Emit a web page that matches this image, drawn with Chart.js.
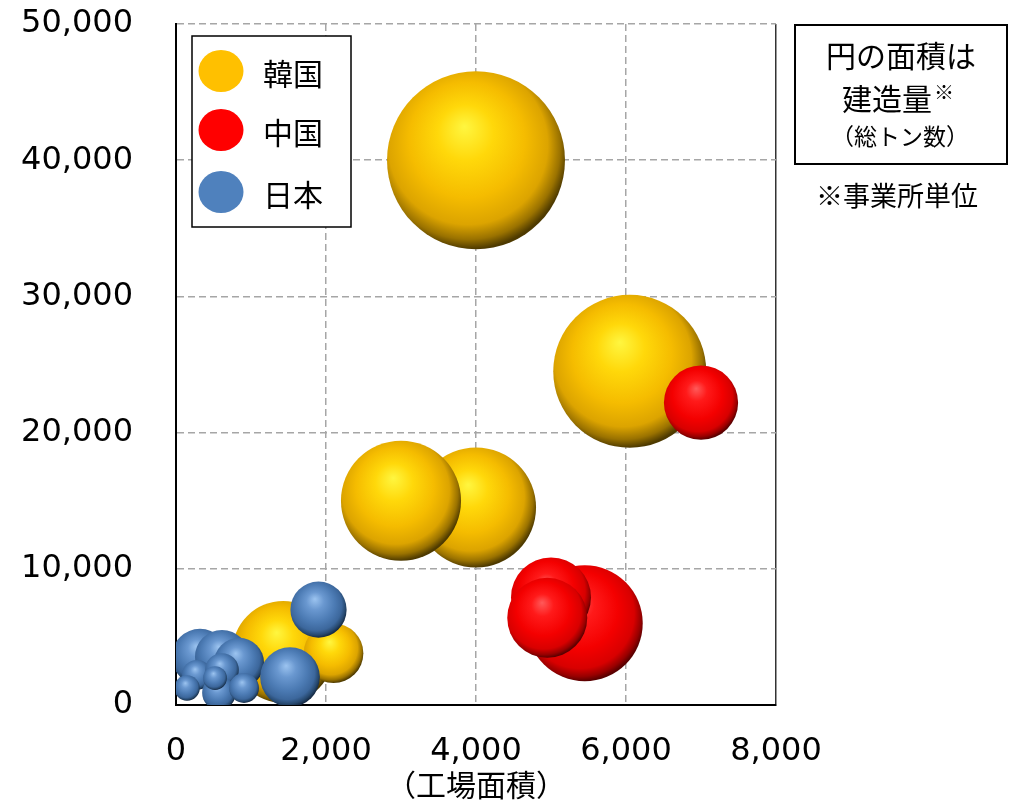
<!DOCTYPE html>
<html lang="ja">
<head>
<meta charset="utf-8">
<title>工場面積と建造量</title>
<script src="https://cdn.jsdelivr.net/npm/chart.js@4/dist/chart.umd.min.js"></script>
<style>
  html, body { margin: 0; padding: 0; background: #ffffff; }
  #wrap { width: 1009px; height: 803px; position: relative; }
</style>
</head>
<body>
<div id="wrap"><canvas id="chart" width="1009" height="803"></canvas></div>
<script>
// 工場面積 (x) と 従業員規模 (y)、建造量 (総トン数, 万GT) は円の面積で表す
const seriesNames = ['韓国', '中国', '日本'];

const koreaX = [4000, 6050, 4000, 3000, 1430, 2100];
const koreaY = [40000, 24500, 14500, 15000, 3900, 3800];
const koreaTonnage = [391, 289, 178, 178, 128, 44];

const chinaX = [5450, 5000, 4950, 7000];
const chinaY = [6000, 7900, 6400, 22200];
const chinaTonnage = [166, 79, 79, 68];

const japanX = [320, 613, 840, 1900, 1520, 280, 613, 147, 573, 907, 520];
const japanY = [3530, 3530, 3090, 7000, 2050, 2210, 2570, 1250, 880, 1250, 1980];
const japanTonnage = [39, 36, 31, 39, 44, 11, 14, 8, 14, 11, 7];

const xTicks = [0, 2000, 4000, 6000, 8000];
const yTicks = [0, 10000, 20000, 30000, 40000, 50000];

// 円の面積 ∝ 建造量  →  半径 ∝ √建造量
const RADIUS_PER_SQRT = 4.5;
function toBubbles(xs, ys, ts) {
  return xs.map((x, i) => ({ x: x, y: ys[i], r: RADIUS_PER_SQRT * Math.sqrt(ts[i]) }));
}

const palettes = {
  korea: { base: '#FFC000', stops: [[0, '#FFF640'], [0.28, '#FFD80A'], [0.58, '#F5BC00'], [0.8, '#DCA400'], [0.92, '#9A7200'], [1, '#4E3A00']] },
  china: { base: '#FF0000', stops: [[0, '#FF5A5A'], [0.25, '#FF1A1A'], [0.6, '#F40000'], [0.84, '#D80000'], [0.94, '#980000'], [1, '#5A0000']] },
  japan: { base: '#4F81BD', stops: [[0, '#9CC4F0'], [0.28, '#6A98D0'], [0.6, '#4C7BB4'], [0.82, '#3C679C'], [0.93, '#27496F'], [1, '#162B45']] }
};

// 球体風の塗り: スケールから中心座標を求めて放射グラデーションを作る
function sphereFill(p) {
  return (ctx) => {
    const chart = ctx.chart;
    const raw = ctx.raw;
    const xs = chart.scales && chart.scales.x;
    const ys = chart.scales && chart.scales.y;
    if (!raw || !xs || !ys) return p.base;
    const cx = xs.getPixelForValue(raw.x);
    const cy = ys.getPixelForValue(raw.y);
    const r = raw.r;
    if (!isFinite(cx) || !isFinite(cy) || !r) return p.base;
    const g = chart.ctx.createRadialGradient(cx - 0.13 * r, cy - 0.38 * r, 0, cx - 0.08 * r, cy - 0.12 * r, 1.12 * r);
    p.stops.forEach(s => g.addColorStop(s[0], s[1]));
    return g;
  };
}

const fmt = v => Number(v).toLocaleString('en-US');

// 凡例と注記の描画
const annotations = {
  id: 'annotations',
  afterDraw(chart) {
    const c = chart.ctx;
    c.save();
    // 凡例枠
    c.fillStyle = '#ffffff';
    c.fillRect(192, 36, 159, 191);
    c.strokeStyle = '#000000';
    c.lineWidth = 1.5;
    c.strokeRect(192, 36, 159, 191);
    const rowsY = [71, 130, 192];
    chart.data.datasets.forEach((ds, i) => {
      c.beginPath();
      c.ellipse(221, rowsY[i], 22.5, 21, 0, 0, Math.PI * 2);
      c.fillStyle = ds.legendColor;
      c.fill();
      c.fillStyle = '#000000';
      c.font = '30px "Noto Sans CJK JP"';
      c.textAlign = 'left';
      c.textBaseline = 'middle';
      c.fillText(ds.label, 263, rowsY[i] + 3);
    });

    // 注記枠
    c.lineWidth = 2;
    c.strokeStyle = '#000000';
    c.strokeRect(795, 25, 212, 139);
    c.fillStyle = '#000000';
    c.textAlign = 'center';
    c.textBaseline = 'middle';
    c.font = '30px "Noto Sans CJK JP"';
    c.fillText('円の面積は', 901, 56);
    c.fillText('建造量', 887, 99);
    c.font = '20px "Noto Sans CJK JP"';
    c.fillText('※', 944, 92);
    c.font = '23px "Noto Sans CJK JP"';
    c.fillText('（総トン数）', 900, 136);
    c.font = '27px "Noto Sans CJK JP"';
    c.fillText('※事業所単位', 897, 196);
    c.restore();
  }
};

const gridColor = '#A6A6A6';

new Chart(document.getElementById('chart'), {
  type: 'bubble',
  data: {
    datasets: [
      { label: seriesNames[0], data: toBubbles(koreaX, koreaY, koreaTonnage), backgroundColor: sphereFill(palettes.korea), legendColor: palettes.korea.base, borderWidth: 0, order: 2, clip: 0 },
      { label: seriesNames[1], data: toBubbles(chinaX, chinaY, chinaTonnage), backgroundColor: sphereFill(palettes.china), legendColor: palettes.china.base, borderWidth: 0, order: 1, clip: 0 },
      { label: seriesNames[2], data: toBubbles(japanX, japanY, japanTonnage), backgroundColor: sphereFill(palettes.japan), legendColor: palettes.japan.base, borderWidth: 0, order: 0, clip: 0 }
    ]
  },
  options: {
    responsive: false,
    animation: false,
    devicePixelRatio: 1,
    events: [],
    layout: { autoPadding: false, padding: { left: 0, top: 24, right: 233, bottom: 0 } },
    plugins: { legend: { display: false }, tooltip: { enabled: false } },
    scales: {
      x: {
        type: 'linear',
        min: xTicks[0],
        max: xTicks[xTicks.length - 1],
        afterBuildTicks: s => { s.ticks = xTicks.map(v => ({ value: v })); },
        afterFit: s => { s.height = 98; s.paddingLeft = 10; s.paddingRight = 50; },
        ticks: { callback: fmt, color: '#000000', padding: 27, maxRotation: 0, font: { family: 'DejaVu Sans', size: 32 } },
        grid: {
          drawTicks: false,
          lineWidth: 1.5,
          color: c => (c.tick && c.tick.value === xTicks[xTicks.length - 1]) ? '#333333' : gridColor
        },
        border: {
          display: true, color: '#000000', width: 2,
          dash: c => (c.tick && c.tick.value === xTicks[xTicks.length - 1]) ? [] : [7, 4]
        },
        title: { display: true, text: '（工場面積）', color: '#000000', padding: { top: 0, bottom: 0 }, font: { family: 'Noto Sans CJK JP', size: 30 } }
      },
      y: {
        type: 'linear',
        min: yTicks[0],
        max: yTicks[yTicks.length - 1],
        afterBuildTicks: s => { s.ticks = yTicks.map(v => ({ value: v })); },
        afterFit: s => { s.width = 176; s.paddingTop = 18; s.paddingBottom = 18; },
        ticks: { callback: fmt, color: '#000000', padding: 43, font: { family: 'DejaVu Sans', size: 32 } },
        grid: { drawTicks: false, lineWidth: 1.5, color: gridColor },
        border: { display: true, color: '#000000', width: 2, dash: [7, 4] }
      }
    }
  },
  plugins: [annotations]
});
</script>
</body>
</html>
